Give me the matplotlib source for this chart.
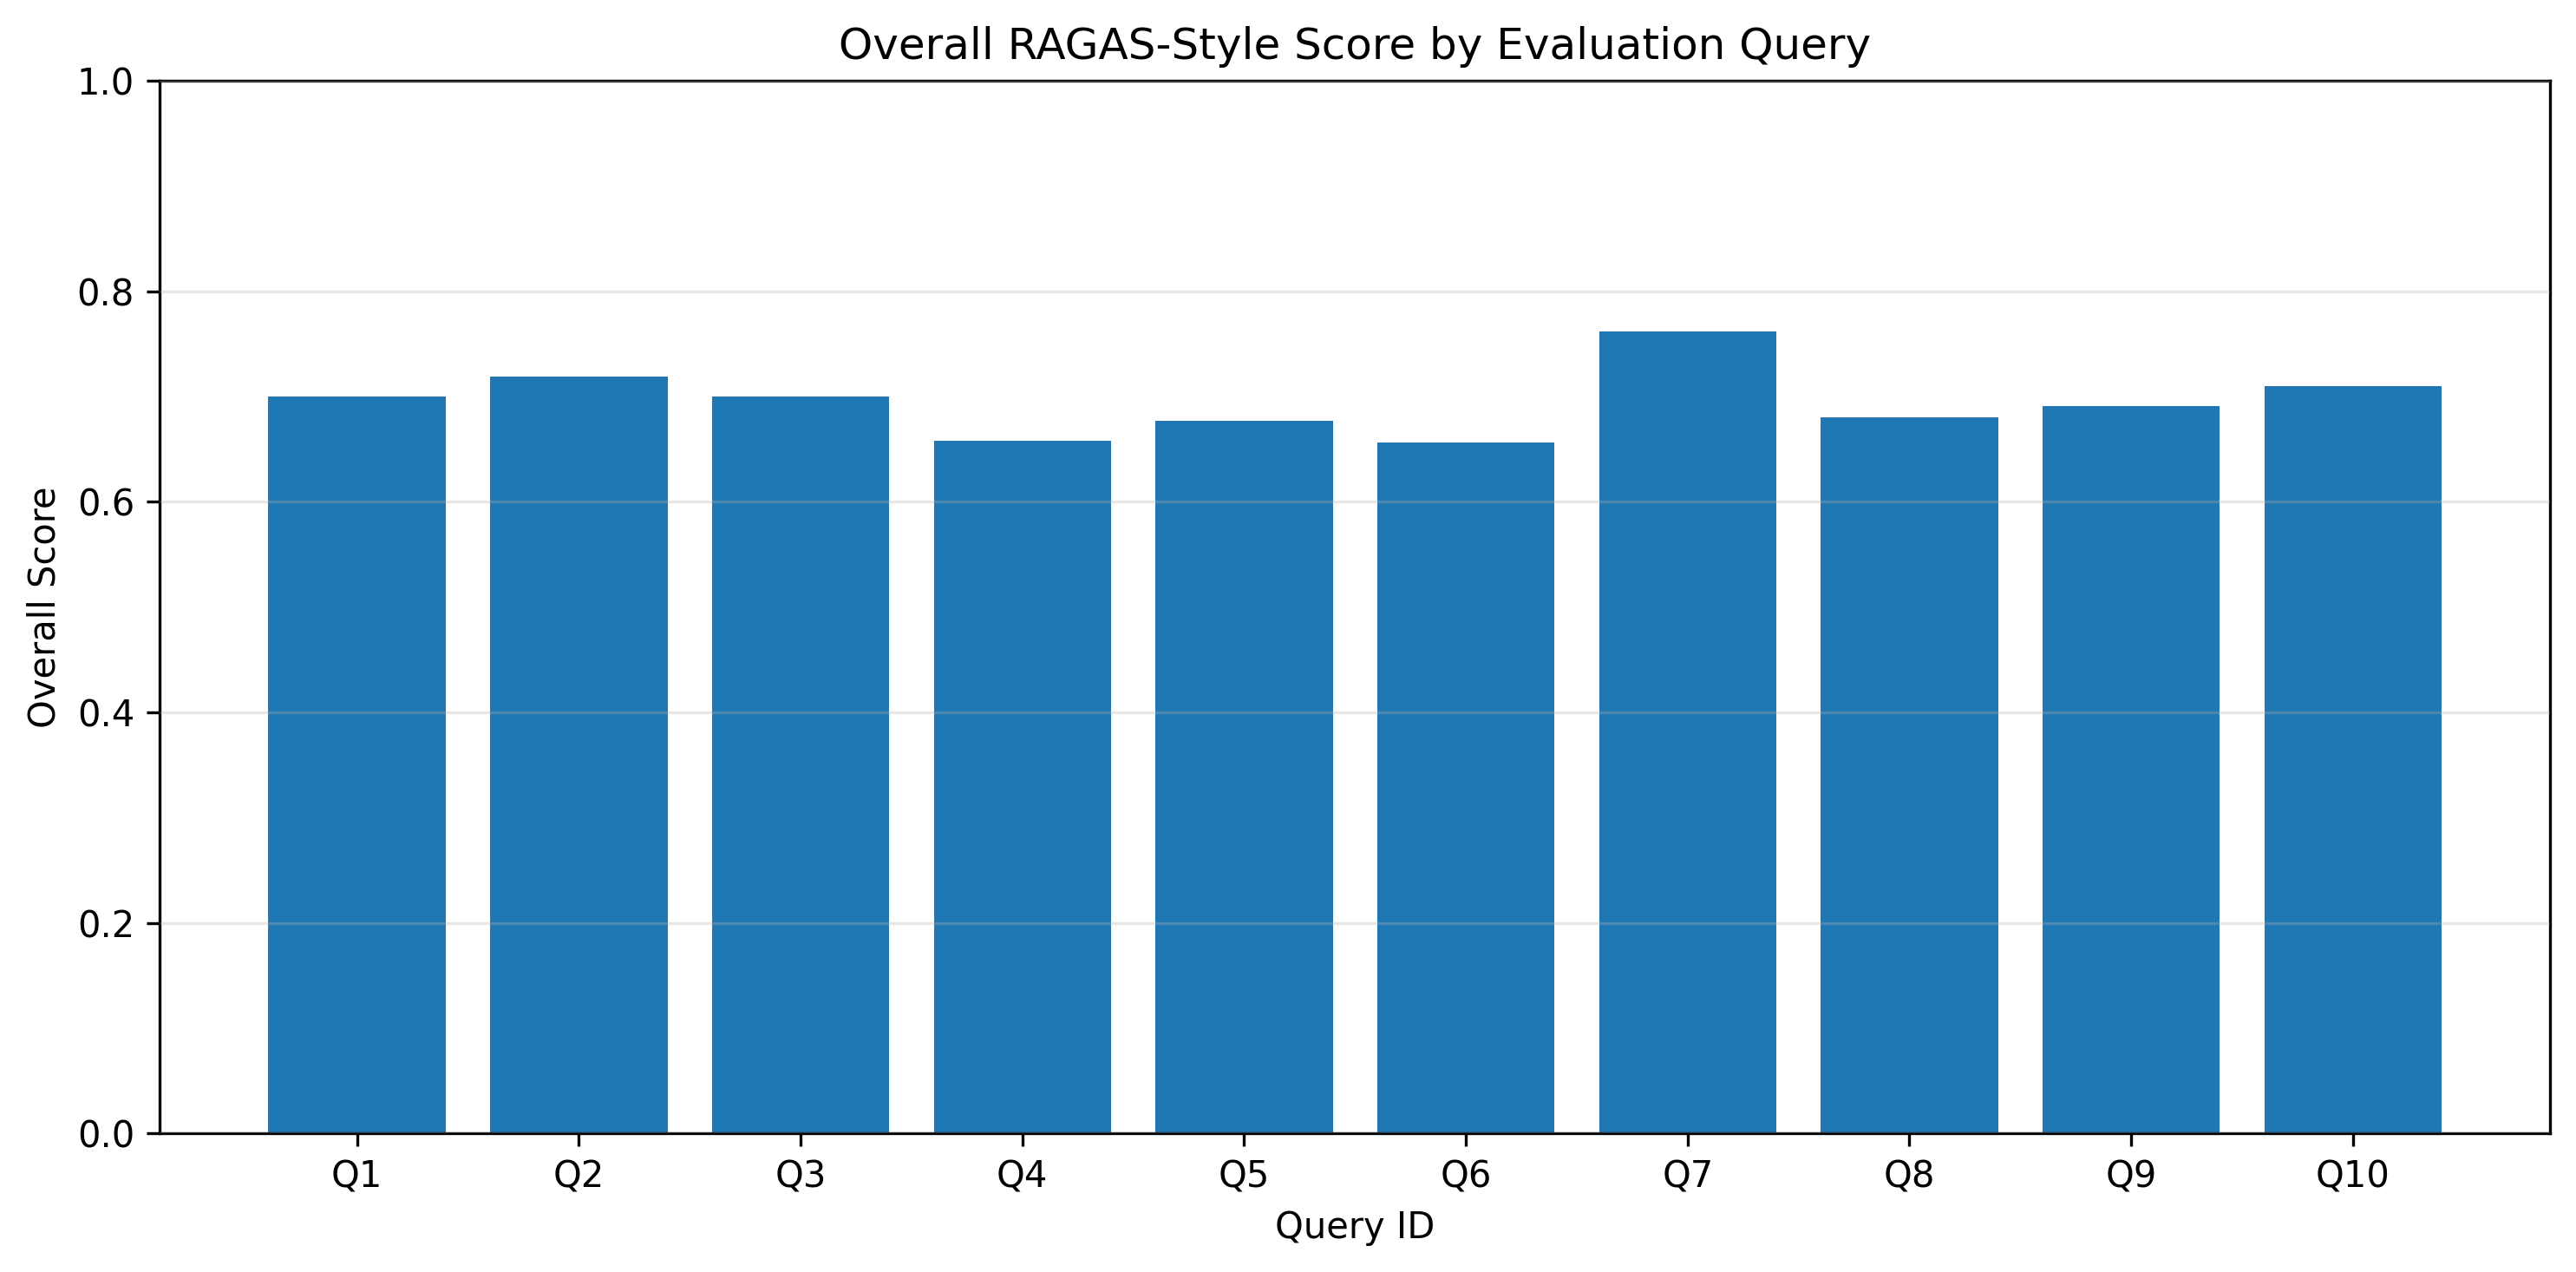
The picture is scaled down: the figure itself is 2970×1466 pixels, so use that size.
import matplotlib
matplotlib.use("Agg")
import matplotlib.pyplot as plt

query_ids = ["Q1", "Q2", "Q3", "Q4", "Q5", "Q6", "Q7", "Q8", "Q9", "Q10"]
overall_scores = [0.700, 0.719, 0.700, 0.658, 0.677, 0.656, 0.762, 0.680, 0.691, 0.710]

fig, ax = plt.subplots(figsize=(10, 5))
ax.bar(query_ids, overall_scores, color="#1f77b4")
ax.set_ylim(0, 1)
ax.set_xlabel("Query ID")
ax.set_ylabel("Overall Score")
ax.set_title("Overall RAGAS-Style Score by Evaluation Query")
ax.grid(axis="y", alpha=0.3)
ax.set_axisbelow(False)
fig.tight_layout()
fig.savefig("out.png", dpi=300, bbox_inches="tight")
